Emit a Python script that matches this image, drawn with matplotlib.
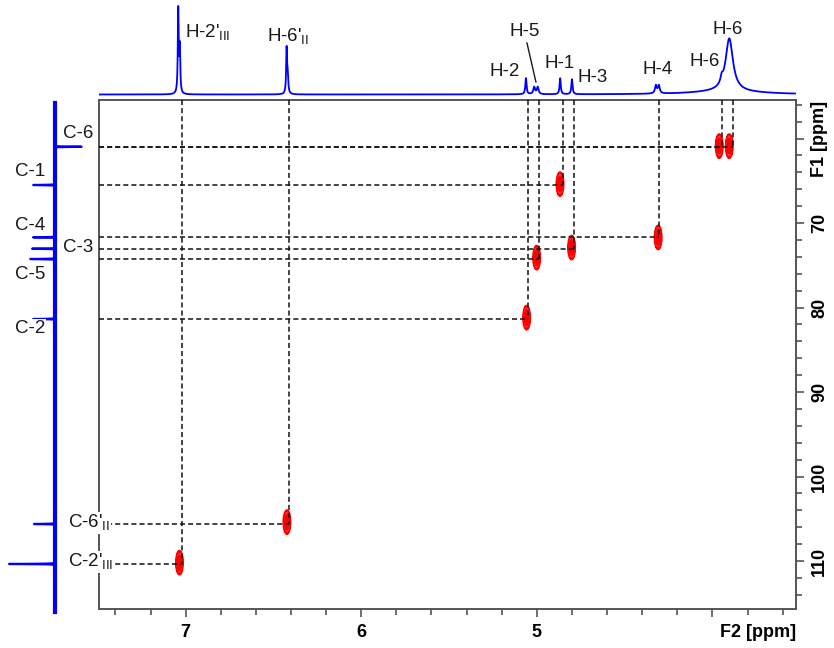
import numpy as np
import matplotlib
matplotlib.use('Agg')
import matplotlib.pyplot as plt
import matplotlib.transforms as mtransforms
from matplotlib.ticker import MultipleLocator

plt.rcParams['font.family'] = ['Liberation Sans', 'DejaVu Sans']
plt.rcParams['mathtext.fontset'] = 'custom'
plt.rcParams['mathtext.rm'] = 'Liberation Sans'

# 1H projection (top): shift ppm, height, FWHM ppm
h1_shift = [7.042, 7.033, 6.425, 6.419, 5.062, 5.015, 4.995, 4.867, 4.800,
            4.322, 4.305, 3.947, 3.904, 3.92]
h1_height = [84, 45, 43, 18, 16, 7, 7, 16, 15, 8, 8, 6, 53, 3]
h1_width = [0.006, 0.006, 0.006, 0.008, 0.008, 0.012, 0.012, 0.008, 0.008,
            0.012, 0.012, 0.015, 0.05, 0.45]

# 13C projection (left): shift ppm, intensity (negative = CH2, points right)
c13_shift = [60.97, 65.50, 71.69, 73.04, 74.26, 81.36, 105.62, 110.35]
c13_int = [-27, 22, 22, 23, 25, 22, 21, 46]

# HSQC cross peaks (F2 1H, F1 13C)
peak_h = [7.035, 6.423, 5.058, 5.001, 4.868, 4.802, 4.309, 3.961, 3.904]
peak_c = [110.2, 105.4, 81.2, 74.1, 65.4, 72.9, 71.7, 60.9, 60.9]

# assignment guide lines
line_h = [7.019, 6.410, 5.049, 4.988, 4.853, 4.787, 4.303, 3.944, 3.885]
line_c = [110.35, 105.62, 81.36, 74.26, 65.50, 73.04, 71.69, 60.97, 60.97]

h_labels = ["H-2'$_{\\mathrm{III}}$", "H-6'$_{\\mathrm{II}}$", 'H-2', 'H-5', 'H-1',
            'H-3', 'H-4', 'H-6', 'H-6']
h_label_x = [7.004, 6.537, 5.267, 5.153, 4.954, 4.766, 4.401, 4.128, 3.997]
h_label_y = [61.5, 57.5, 22.5, 63.5, 31.5, 17.5, 25.5, 32.5, 65.5]

c_labels = ['C-6', 'C-1', 'C-4', 'C-3', 'C-5', 'C-2',
            "C-6'$_{\\mathrm{II}}$", "C-2'$_{\\mathrm{III}}$"]
c_label_px = [63, 15, 15, 63, 15, 15, 68, 68]
c_label_y = [59.35, 63.96, 70.24, 72.84, 76.15, 82.43, 105.5, 110.1]

W, H = 834, 648
fig = plt.figure(figsize=(W / 100, H / 100), dpi=100)
x0, x1, y0, y1 = 98.7, 796, 100, 609
ax = fig.add_axes([x0 / W, 1 - y1 / H, (x1 - x0) / W, (y1 - y0) / H])
ax_h = fig.add_axes([x0 / W, 1 - 97 / H, (x1 - x0) / W, 97 / H])
ax_c = fig.add_axes([0, 1 - y1 / H, x0 / W, (y1 - y0) / H])

xlim = (7.495, 3.524)
ylim = (115.68, 55.44)
ax.set_xlim(xlim)
ax.set_ylim(ylim)

# 2D contours
gx = np.linspace(3.5, 7.5, 2400)
gy = np.linspace(55, 116, 620)
X, Y = np.meshgrid(gx, gy)
Z = np.zeros_like(X)
for h, c in zip(peak_h, peak_c):
    Z += np.exp(-0.5 * ((X - h) / 0.0105) ** 2 - 0.5 * ((Y - c) / 0.72) ** 2)
ax.contourf(X, Y, Z, levels=[0.14, 0.3, 0.45, 2], colors=['#ff0000', '#ff3030', '#ff0000'],
            zorder=2)
ax.contour(X, Y, Z, levels=[0.14, 0.5, 0.8], colors='#ff0000', linewidths=1.2, zorder=2)

dash = (0, (3.3, 2.0))
for h, c in zip(line_h, line_c):
    ax.plot([xlim[0], h], [c, c], color='#111111', lw=1.1, linestyle=dash, zorder=3)
    ax.plot([h, h], [ylim[1], c], color='#111111', lw=1.1, linestyle=dash, zorder=3)

spine_col = '#555555'
for s in ax.spines.values():
    s.set_color(spine_col)
    s.set_linewidth(1.4)

ax.set_xticks([7, 6, 5, 4], labels=['7', '6', '5', ''])
ax.xaxis.set_minor_locator(MultipleLocator(0.2))
ax.yaxis.tick_right()
ax.set_yticks([60, 70, 80, 90, 100, 110],
              labels=['F1 [ppm]', '70', '80', '90', '100', '110'])
ax.yaxis.set_minor_locator(MultipleLocator(2))
ax.tick_params(which='major', length=6, width=1.2, color=spine_col, labelsize=13, pad=5)
ax.tick_params(which='minor', length=4, width=1.2, color=spine_col)
ax.tick_params(axis='y', labelrotation=90)
for lbl in ax.get_xticklabels() + ax.get_yticklabels():
    lbl.set_fontweight('bold')
for lbl in ax.get_yticklabels():
    lbl.set_va('center')
tr = mtransforms.blended_transform_factory(ax.transData, ax.transAxes)
ax.text(3.955, -0.047, 'F2 [ppm]', transform=tr, ha='left', va='center',
        fontsize=13, fontweight='bold')

# top 1H projection
hx = np.linspace(xlim[0], 3.53, 24000)
hs = np.zeros_like(hx)
for p, a, w in zip(h1_shift, h1_height, h1_width):
    hs += a / (1 + (2 * (hx - p) / w) ** 2)
ax_h.plot(hx, hs, color='#0000ff', lw=1.3)
ax_h.set_xlim(xlim)
ax_h.set_ylim(-2.5, 94.5)
ax_h.axis('off')
for t, x, y in zip(h_labels, h_label_x, h_label_y):
    ax_h.text(x, y, t, ha='left', va='center', fontsize=13.5, color='#1a1a1a',
              clip_on=False)
ax_h.plot([5.056, 5.005], [51.5, 12.5], color='#1a1a1a', lw=1.0)

# left 13C projection
cy = np.linspace(55.8, 116.0, 12000)
cs = np.zeros_like(cy)
for p, a in zip(c13_shift, c13_int):
    cs += a / (1 + (2 * (cy - p) / 0.04) ** 2)
ax_c.plot([0, 0], [55.8, 116.0], color='#0000ff', lw=3.0, clip_on=False)
ax_c.plot(-cs, cy, color='#0000ff', lw=1.6, clip_on=False)
ax_c.set_xlim(-55, x0 - 55)
ax_c.set_ylim(ylim)
ax_c.axis('off')

tc = mtransforms.blended_transform_factory(fig.transFigure, ax.transData)
for t, px, y in zip(c_labels, c_label_px, c_label_y):
    fig.text(px / W, y, t, transform=tc, ha='left', va='center', fontsize=13.5,
             color='#1a1a1a', zorder=10,
             bbox=dict(facecolor='white', edgecolor='none', pad=0.5))

fig.savefig('out.png', dpi=100)
